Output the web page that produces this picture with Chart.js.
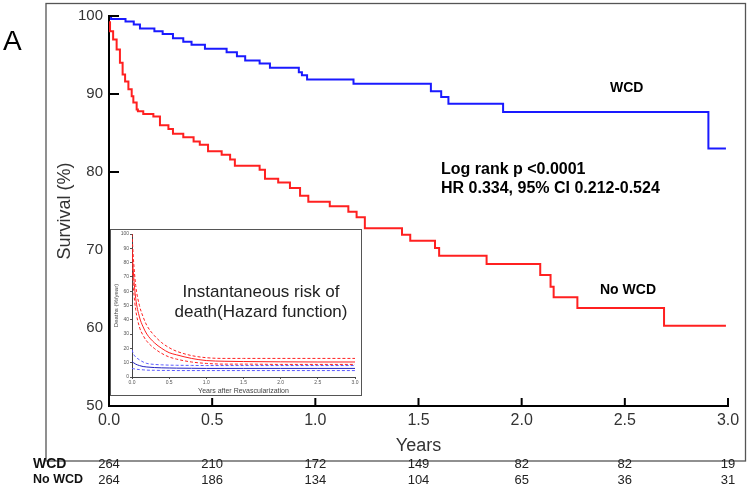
<!DOCTYPE html>
<html>
<head>
<meta charset="utf-8">
<script src="https://cdn.jsdelivr.net/npm/chart.js@4"></script>
<style>
  html, body { margin: 0; padding: 0; background: #fff; }
  #wrap { position: relative; width: 750px; height: 493px; }
  #main { position: absolute; left: 0; top: 0; }
  #insetBox { position: absolute; left: 110px; top: 229px; width: 250px; height: 165px;
              border: 1.5px solid #555; background: #fff; }
</style>
</head>
<body>
<div id="wrap">
  <canvas id="main" width="750" height="493"></canvas>
  <div id="insetBox"><canvas id="inset" width="250" height="165"></canvas></div>
</div>
<script>
// Kaplan-Meier survival, time (years) at which each step lands and survival (%)
const wcdTimes = [0, 0.01, 0.08, 0.12, 0.15, 0.22, 0.26, 0.31, 0.36, 0.40, 0.465, 0.57, 0.62, 0.66,
  0.73, 0.78, 0.92, 0.935, 0.96, 1.185, 1.56, 1.61, 1.645, 1.91, 2.905, 2.99];
const wcdSurv = [100, 99.6, 99.3, 98.9, 98.4, 98.05, 97.7, 97.15, 96.7, 96.3, 95.8, 95.35, 94.85, 94.3,
  93.9, 93.35, 92.8, 92.4, 91.85, 91.3, 90.35, 89.6, 88.75, 87.7, 83.0, 83.0];

const noWcdTimes = [0, 0.005, 0.02, 0.037, 0.053, 0.066, 0.078, 0.094, 0.11, 0.118, 0.134, 0.14, 0.166,
  0.215, 0.247, 0.288, 0.31, 0.36, 0.41, 0.44, 0.48, 0.546, 0.587, 0.61, 0.73, 0.756, 0.82, 0.877,
  0.926, 0.966, 1.07, 1.16, 1.20, 1.24, 1.42, 1.46, 1.58, 1.60, 1.83, 2.09, 2.14, 2.155, 2.27, 2.69, 2.99];
const noWcdSurv = [99.2, 98.05, 97.0, 95.7, 94.0, 92.5, 91.6, 90.6, 89.7, 88.9, 88.0, 87.8, 87.45,
  87.1, 86.0, 85.5, 84.9, 84.45, 83.9, 83.5, 82.65, 82.2, 81.6, 80.8, 80.3, 79.15, 78.65, 77.95,
  76.95, 76.2, 75.6, 74.9, 74.2, 72.8, 71.95, 71.2, 70.25, 69.25, 68.2, 66.8, 65.3, 63.95, 62.55, 60.3, 60.3];

// numbers at risk
const riskYears = [0, 0.5, 1.0, 1.5, 2.0, 2.5, 3.0];
const wcdAtRisk = [264, 210, 172, 149, 82, 82, 19];
const noWcdAtRisk = [264, 186, 134, 104, 65, 36, 31];

// inset: hazard function (deaths %/year)
const hazTimes = [0, 0.02, 0.05, 0.1, 0.15, 0.2, 0.3, 0.4, 0.5, 0.6, 0.8, 1.0, 1.25, 1.5, 2.0, 2.5, 3.0];
const hazNoWcd      = [90, 72, 55, 42, 35, 30, 24, 20, 17, 15.5, 13, 11.5, 11, 10.8, 10.6, 10.5, 10.5];
const hazNoWcdUpper = [100, 82, 64, 50, 42, 36, 29, 24, 20.5, 18, 15, 13.5, 13, 13, 13, 13, 13];
const hazNoWcdLower = [80, 62, 47, 35, 29, 25, 20, 16.5, 14, 12.5, 10.5, 9.5, 9, 9, 8.8, 8.8, 8.8];
const hazWcd        = [11, 10, 9, 8, 7.3, 7, 6.6, 6.4, 6.3, 6.2, 6.1, 6, 6, 6, 6, 6, 6];
const hazWcdUpper   = [19, 16, 14, 12, 10.5, 9.5, 8.8, 8.5, 8.3, 8.2, 8.1, 8, 8, 8, 8, 8, 8];
const hazWcdLower   = [6, 5.8, 5.5, 5.2, 5, 4.8, 4.7, 4.6, 4.6, 4.5, 4.5, 4.5, 4.5, 4.5, 4.5, 4.5, 4.5];

const RED = "#ff2020";
const BLUE = "#1a1aff";
const SANS = "'Liberation Sans', Arial, sans-serif";
const NARROW = "'Liberation Sans Narrow', 'Arial Narrow', 'Liberation Sans', sans-serif";
Chart.defaults.font.family = SANS;

function pts(xs, ys) {
  return xs.map((t, i) => ({ x: t, y: ys[i] }));
}

// frame, inward tick marks, notes and number-at-risk table
const decor = {
  id: "decor",
  afterDraw(chart) {
    const ctx = chart.ctx;
    const xs = chart.scales.x, ys = chart.scales.y;
    const area = chart.chartArea;
    ctx.save();

    ctx.strokeStyle = "#555";
    ctx.lineWidth = 1.3;
    ctx.strokeRect(46, 3.5, 699.5, 457.5);

    ctx.strokeStyle = "#000";
    ctx.lineWidth = 2;
    ys.ticks.forEach(t => {
      const py = ys.getPixelForValue(t.value);
      ctx.beginPath(); ctx.moveTo(area.left - 1, py); ctx.lineTo(area.left + 10, py); ctx.stroke();
    });
    riskYears.forEach(v => {
      const px = xs.getPixelForValue(v);
      ctx.beginPath(); ctx.moveTo(px, area.bottom + 1); ctx.lineTo(px, area.bottom - 8); ctx.stroke();
    });

    ctx.fillStyle = "#000";
    ctx.textBaseline = "alphabetic";
    ctx.textAlign = "left";
    ctx.font = "28px " + SANS;
    ctx.fillText("A", 3, 50);

    ctx.textBaseline = "middle";
    ctx.font = "bold 14px " + SANS;
    ctx.fillText("WCD", 610, 88);
    ctx.fillText("No WCD", 600, 290);
    ctx.font = "bold 16px " + SANS;
    ctx.fillText("Log rank p <0.0001", 441, 170);
    ctx.fillText("HR 0.334, 95% CI 0.212-0.524", 441, 189);

    ctx.fillStyle = "#111";
    ctx.font = "bold 14px " + SANS;
    ctx.fillText("WCD", 33, 464);
    ctx.font = "bold 12.5px " + SANS;
    ctx.fillText("No WCD", 33, 480);

    ctx.fillStyle = "#222";
    ctx.textAlign = "center";
    ctx.font = "13px " + NARROW;
    riskYears.forEach((v, i) => {
      const px = xs.getPixelForValue(v);
      ctx.fillText(String(wcdAtRisk[i]), px, 464);
      ctx.fillText(String(noWcdAtRisk[i]), px, 480);
    });
    ctx.restore();
  }
};

new Chart(document.getElementById("main"), {
  type: "line",
  data: {
    datasets: [
      { label: "WCD", data: pts(wcdTimes, wcdSurv), borderColor: BLUE, borderWidth: 2,
        stepped: true, pointRadius: 0, fill: false },
      { label: "No WCD", data: pts(noWcdTimes, noWcdSurv), borderColor: RED, borderWidth: 2,
        stepped: true, pointRadius: 0, fill: false }
    ]
  },
  options: {
    responsive: false,
    animation: false,
    layout: { padding: { left: 0, right: 22, top: 16, bottom: 0 } },
    plugins: { legend: { display: false }, tooltip: { enabled: false } },
    scales: {
      x: {
        type: "linear", min: 0, max: 3,
        grid: { display: false, drawTicks: false },
        border: { display: true, color: "#000", width: 2 },
        ticks: { stepSize: 0.5, padding: 5, color: "#333", font: { size: 16 },
                 callback: v => Number(v).toFixed(1) },
        title: { display: true, text: "Years", color: "#333", font: { size: 18 },
                 padding: { top: 0, bottom: 36 } },
        afterFit(scale) { scale.height = 87; }
      },
      y: {
        min: 50, max: 100,
        grid: { display: false, drawTicks: false },
        border: { display: true, color: "#000", width: 2 },
        ticks: { stepSize: 10, padding: 6, color: "#333", font: { size: 15 } },
        title: { display: true, text: "Survival (%)", color: "#333", font: { size: 18 },
                 padding: { top: 54, bottom: 0 } },
        afterFit(scale) { scale.width = 109; }
      }
    }
  },
  plugins: [decor]
});

// inset chart text
const insetNote = {
  id: "insetNote",
  afterDraw(chart) {
    const ctx = chart.ctx;
    ctx.save();
    ctx.fillStyle = "#222";
    ctx.font = "17px " + SANS;
    ctx.textAlign = "center";
    ctx.textBaseline = "middle";
    ctx.fillText("Instantaneous risk of", 150, 62);
    ctx.fillText("death(Hazard function)", 150, 82);
    ctx.restore();
  }
};

function hazLine(ys, color, dashed) {
  return { data: pts(hazTimes, ys), borderColor: color, borderWidth: 1,
           borderDash: dashed ? [3, 2] : [], pointRadius: 0, fill: false,
           cubicInterpolationMode: "monotone" };
}

new Chart(document.getElementById("inset"), {
  type: "line",
  data: {
    datasets: [
      hazLine(hazNoWcdUpper, RED, true),
      hazLine(hazNoWcdLower, RED, true),
      hazLine(hazNoWcd, RED, false),
      hazLine(hazWcdUpper, "#5a5aff", true),
      hazLine(hazWcdLower, "#5a5aff", true),
      hazLine(hazWcd, "#2020c0", false)
    ]
  },
  options: {
    responsive: false,
    animation: false,
    layout: { padding: { left: 0, right: 6, top: 4, bottom: 0 } },
    plugins: { legend: { display: false }, tooltip: { enabled: false } },
    scales: {
      x: {
        type: "linear", min: 0, max: 3,
        grid: { display: true, drawOnChartArea: false, tickLength: 2, color: "#555" },
        border: { color: "#444", width: 1 },
        ticks: { stepSize: 0.5, padding: 1, color: "#555", font: { size: 5 },
                 callback: v => Number(v).toFixed(1) },
        title: { display: true, text: "Years after Revascularization", color: "#444",
                 font: { size: 7 }, padding: { top: 0, bottom: 0 } },
        afterFit(scale) { scale.height = 18; }
      },
      y: {
        min: 0, max: 100,
        grid: { display: true, drawOnChartArea: false, tickLength: 2, color: "#555" },
        border: { color: "#444", width: 1 },
        ticks: { stepSize: 10, padding: 1, color: "#555", font: { size: 5 } },
        title: { display: true, text: "Deaths (%/year)", color: "#444",
                 font: { size: 6 }, padding: { top: 2, bottom: 0 } },
        afterFit(scale) { scale.width = 21; }
      }
    }
  },
  plugins: [insetNote]
});
</script>
</body>
</html>
